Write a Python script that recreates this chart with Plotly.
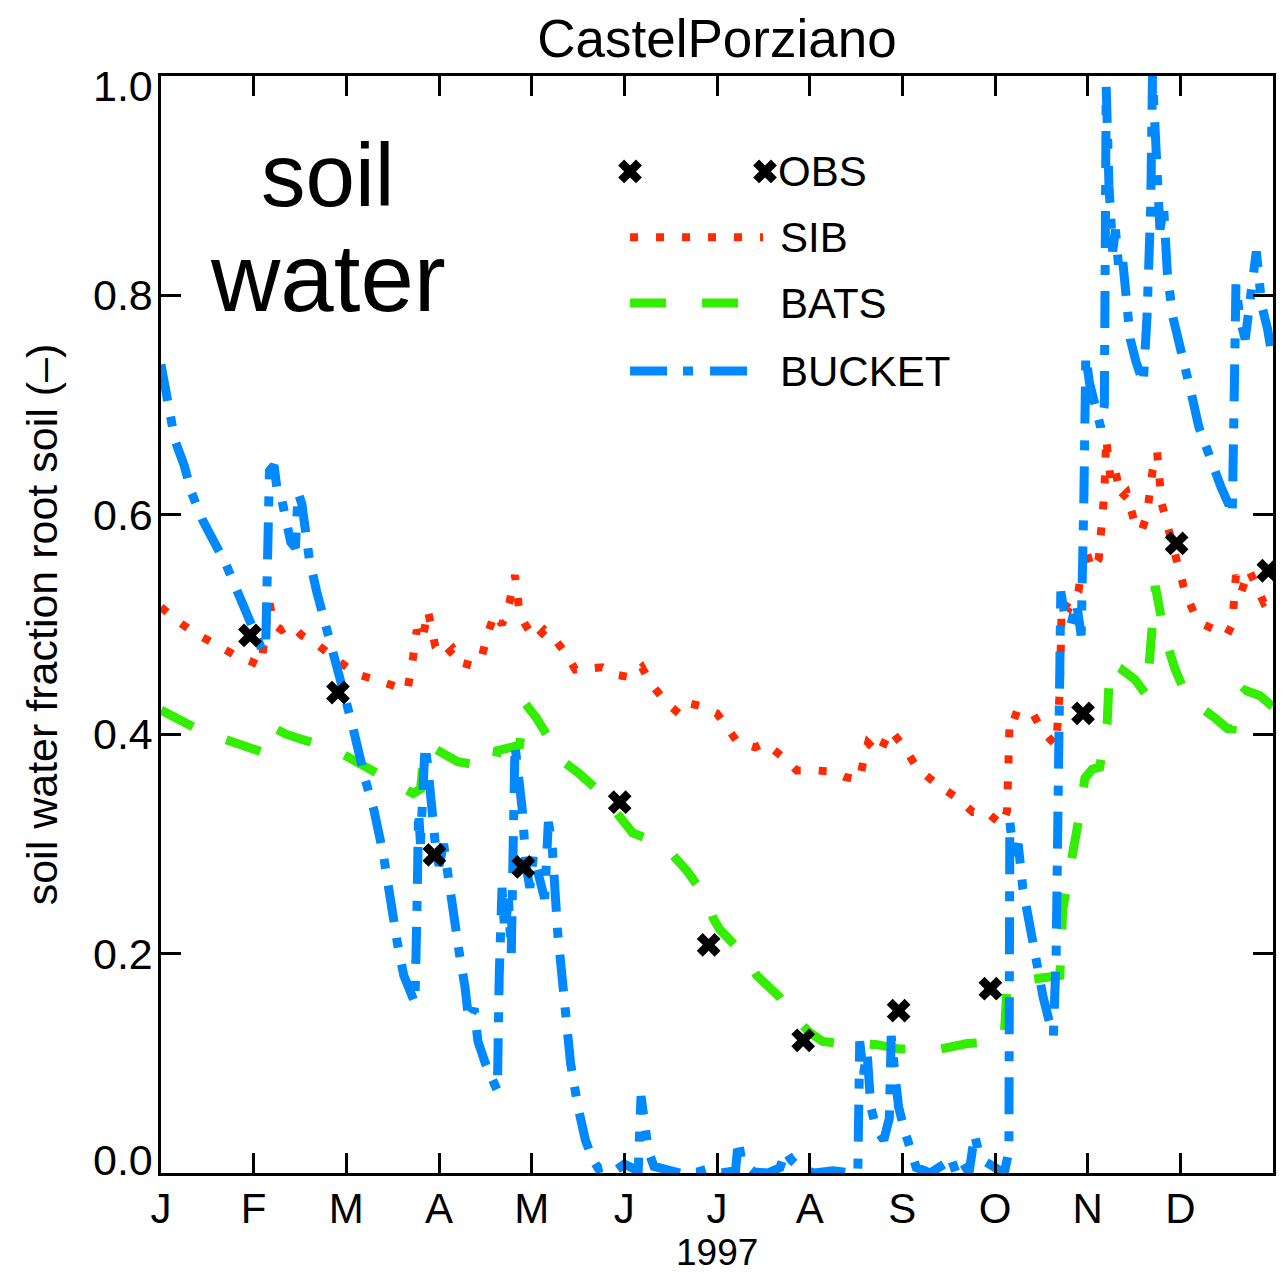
import plotly.graph_objects as go

# ---- data -------------------------------------------------------------
MONTHS = ["J", "F", "M", "A", "M", "J", "J", "A", "S", "O", "N", "D"]
YEAR = "1997"
Y_TICKS = [0.0, 0.2, 0.4, 0.6, 0.8, 1.0]
Y_TICK_TEXT = ["0.0", "0.2", "0.4", "0.6", "0.8", "1.0"]

# time axis in months since 1 Jan 1997
obs_month = [0.96, 1.91, 2.95, 3.91, 4.95, 5.91, 6.93, 7.96, 8.95, 9.95, 10.96, 11.95]
obs_value = [0.490, 0.438, 0.290, 0.279, 0.338, 0.208, 0.121, 0.148, 0.168, 0.419, 0.574, 0.549]

sib_month = [0.00, 0.15, 0.35, 0.58, 0.80, 0.98, 1.08, 1.12, 1.17, 1.22, 1.30, 1.40,
             1.52, 1.68, 1.90, 2.10, 2.30, 2.50, 2.66, 2.72, 2.76, 2.82, 2.88, 2.96,
             3.05, 3.15, 3.25, 3.38, 3.46, 3.52, 3.60, 3.68, 3.76, 3.82, 3.87, 3.93,
             4.04, 4.14, 4.23, 4.38, 4.47, 4.63, 4.76, 4.92, 5.06, 5.19, 5.28, 5.44,
             5.60, 5.71, 5.85, 6.00, 6.22, 6.41, 6.52, 6.71, 6.86, 7.06, 7.24, 7.38,
             7.54, 7.58, 7.63, 7.75, 7.87, 8.03, 8.16, 8.41, 8.59, 8.76, 8.91, 9.08,
             9.13, 9.16, 9.30, 9.40, 9.50, 9.60, 9.66, 9.70, 9.72, 9.80, 9.90, 9.97,
             10.05, 10.12, 10.18, 10.20, 10.25, 10.30, 10.36, 10.42, 10.50, 10.58,
             10.64, 10.70, 10.75, 10.80, 10.88, 10.96, 11.05, 11.15, 11.25, 11.38,
             11.50, 11.56, 11.60, 11.66, 11.74, 11.82, 11.90, 12.00]
sib_value = [0.516, 0.505, 0.493, 0.482, 0.472, 0.466, 0.462, 0.490, 0.520, 0.500, 0.495, 0.500,
             0.490, 0.482, 0.468, 0.455, 0.450, 0.445, 0.440, 0.470, 0.495, 0.485, 0.513, 0.480,
             0.470, 0.478, 0.465, 0.462, 0.470, 0.490, 0.510, 0.500, 0.520, 0.545, 0.510, 0.500,
             0.486, 0.495, 0.489, 0.472, 0.459, 0.460, 0.461, 0.454, 0.452, 0.461, 0.447, 0.430,
             0.418, 0.428, 0.425, 0.419, 0.393, 0.388, 0.392, 0.379, 0.367, 0.367, 0.366, 0.361,
             0.358, 0.376, 0.392, 0.382, 0.404, 0.387, 0.369, 0.352, 0.342, 0.329, 0.329, 0.317,
             0.330, 0.419, 0.415, 0.420, 0.405, 0.395, 0.390, 0.440, 0.520, 0.515, 0.530, 0.570,
             0.550, 0.560, 0.620, 0.670, 0.630, 0.640, 0.615, 0.620, 0.595, 0.585,
             0.600, 0.640, 0.657, 0.610, 0.585, 0.565, 0.530, 0.510, 0.500, 0.495,
             0.490, 0.500, 0.545, 0.530, 0.550, 0.535, 0.520, 0.525]

bats_month = [0.00, 0.15, 0.30, 0.50, 0.70, 0.90, 1.05, 1.12, 1.21, 1.35, 1.53, 1.82,
              2.00, 2.20, 2.40, 2.60, 2.72, 2.80, 2.85, 2.95, 3.05, 3.20, 3.40, 3.60,
              3.63, 3.75, 3.87, 3.90, 3.93, 4.05, 4.16, 4.34, 4.50, 4.63, 4.70, 4.90,
              5.09, 5.24, 5.40, 5.52, 5.68, 5.89, 5.96, 6.03, 6.15, 6.28, 6.43, 6.55,
              6.68, 6.86, 7.00, 7.14, 7.33, 7.55, 7.73, 7.97, 8.20, 8.41, 8.70, 8.90,
              9.05, 9.10, 9.13, 9.27, 9.50, 9.70, 9.73, 9.80, 9.86, 9.92, 9.97, 10.05,
              10.13, 10.21, 10.24, 10.35, 10.51, 10.64, 10.67, 10.73, 10.83, 10.94,
              11.04, 11.21, 11.37, 11.51, 11.56, 11.59, 11.70, 11.86, 12.00]
bats_value = [0.422, 0.415, 0.410, 0.400, 0.395, 0.390, 0.385, 0.383, 0.406, 0.400, 0.395, 0.388,
              0.380, 0.370, 0.362, 0.352, 0.346, 0.350, 0.390, 0.387, 0.383, 0.375, 0.372, 0.370,
              0.385, 0.388, 0.390, 0.410, 0.428, 0.415, 0.400, 0.375, 0.365, 0.355, 0.350, 0.330,
              0.310, 0.305, 0.298, 0.290, 0.275, 0.250, 0.232, 0.222, 0.212, 0.200, 0.180, 0.170,
              0.160, 0.140, 0.128, 0.120, 0.118, 0.118, 0.117, 0.113, 0.113, 0.113, 0.118, 0.120,
              0.120, 0.125, 0.170, 0.175, 0.178, 0.180, 0.240, 0.270, 0.300, 0.330, 0.360, 0.368,
              0.370, 0.410, 0.465, 0.460, 0.450, 0.435, 0.470, 0.535, 0.490, 0.460,
              0.440, 0.425, 0.415, 0.405, 0.405, 0.430, 0.440, 0.435, 0.425]

bucket_month = [0.00, 0.08, 0.15, 0.25, 0.33, 0.45, 0.55, 0.70, 0.80, 0.90, 1.00, 1.10,
                1.13, 1.15, 1.17, 1.22, 1.25, 1.30, 1.36, 1.40, 1.45, 1.48, 1.52, 1.56,
                1.60, 1.68, 1.78, 1.88, 1.96, 2.06, 2.20, 2.30, 2.40, 2.47, 2.55, 2.62,
                2.70, 2.74, 2.76, 2.78, 2.80, 2.83, 2.85, 2.88, 2.92, 2.96, 3.00, 3.05,
                3.10, 3.16, 3.22, 3.28, 3.32, 3.38, 3.42, 3.50, 3.58, 3.63, 3.65, 3.68,
                3.71, 3.75, 3.78, 3.80, 3.82, 3.86, 3.90, 3.94, 3.98, 4.02, 4.08, 4.14,
                4.18, 4.22, 4.28, 4.35, 4.42, 4.50, 4.58, 4.66, 4.72, 4.82, 4.90, 5.00,
                5.08, 5.15, 5.18, 5.22, 5.26, 5.32, 5.45, 5.60, 5.80, 5.95, 6.05, 6.20,
                6.23, 6.27, 6.40, 6.55, 6.68, 6.74, 6.80, 6.90, 7.05, 7.25, 7.45, 7.52,
                7.54, 7.58, 7.62, 7.66, 7.72, 7.80, 7.86, 7.88, 7.92, 7.96, 8.02, 8.08,
                8.15, 8.30, 8.45, 8.52, 8.58, 8.65, 8.72, 8.78, 8.82, 8.90, 9.00, 9.10,
                9.15, 9.16, 9.20, 9.25, 9.30, 9.38, 9.45, 9.52, 9.58, 9.63, 9.66, 9.68,
                9.71, 9.75, 9.82, 9.88, 9.93, 9.96, 9.98, 10.02, 10.07, 10.14, 10.18,
                10.20, 10.23, 10.27, 10.30, 10.34, 10.38, 10.42, 10.46, 10.52, 10.60,
                10.64, 10.68, 10.70, 10.74, 10.78, 10.82, 10.86, 10.92, 10.98, 11.05,
                11.12, 11.20, 11.28, 11.36, 11.44, 11.52, 11.56, 11.58, 11.60, 11.64,
                11.70, 11.76, 11.82, 11.88, 11.94, 12.00]
bucket_value = [0.737, 0.700, 0.668, 0.645, 0.620, 0.595, 0.580, 0.555, 0.535, 0.515, 0.495, 0.475,
                0.480, 0.600, 0.640, 0.645, 0.625, 0.615, 0.590, 0.575, 0.570, 0.620, 0.610, 0.580,
                0.560, 0.530, 0.500, 0.470, 0.440, 0.410, 0.360, 0.330, 0.290, 0.250, 0.210, 0.180,
                0.160, 0.155, 0.230, 0.330, 0.300, 0.360, 0.390, 0.370, 0.330, 0.300, 0.280, 0.300,
                0.270, 0.230, 0.200, 0.170, 0.140, 0.150, 0.120, 0.100, 0.085, 0.075, 0.180, 0.260,
                0.220, 0.250, 0.200, 0.300, 0.390, 0.360, 0.330, 0.280, 0.260, 0.290, 0.270, 0.250,
                0.320, 0.300, 0.220, 0.160, 0.100, 0.060, 0.030, 0.012, 0.004, 0.006, 0.002, 0.008,
                0.004, 0.002, 0.070, 0.045, 0.020, 0.006, 0.003, 0.000, 0.001, 0.005, 0.000, 0.002,
                0.030, 0.010, 0.001, 0.000, 0.005, 0.020, 0.012, 0.004, 0.000, 0.002, 0.000, 0.001,
                0.120, 0.090, 0.110, 0.060, 0.040, 0.030, 0.050, 0.125, 0.090, 0.060, 0.040, 0.020,
                0.005, 0.000, 0.008, 0.015, 0.000, 0.010, 0.000, 0.035, 0.020, 0.010, 0.005, 0.000,
                0.020, 0.320, 0.290, 0.300, 0.260, 0.220, 0.190, 0.160, 0.140, 0.125, 0.200, 0.450,
                0.530, 0.510, 0.500, 0.520, 0.490, 0.620, 0.745, 0.720, 0.700, 0.680, 0.700,
                0.990, 0.900, 0.840, 0.860, 0.820, 0.830, 0.800, 0.760, 0.740, 0.720,
                0.780, 0.880, 1.000, 0.920, 0.860, 0.880, 0.820, 0.780, 0.760, 0.740,
                0.710, 0.680, 0.660, 0.640, 0.625, 0.610, 0.600, 0.700, 0.810, 0.780,
                0.760, 0.800, 0.840, 0.790, 0.770, 0.740]

SERIES = ["OBS", "SIB", "BATS", "BUCKET"]

# ---- style ------------------------------------------------------------
FONT = "Liberation Sans, Arial, Helvetica, sans-serif"
RED = "#ff2a00"
GREEN = "#33ee00"
BLUE = "#0088ff"
X_MAX = 12.0

DASH = {
    "SIB": "8px,18px",
    "BATS": "36px,36px",
    "BUCKET": "37px,16px,10px,17px",
}
COLOR = {"SIB": RED, "BATS": GREEN, "BUCKET": BLUE}
WIDTH = {"SIB": 8, "BATS": 9, "BUCKET": 9}
MARKER_SIZE = 21

fig = go.Figure()

for name, xs, ys in [("SIB", sib_month, sib_value),
                     ("BATS", bats_month, bats_value),
                     ("BUCKET", bucket_month, bucket_value)]:
    fig.add_trace(go.Scatter(x=xs, y=ys, mode="lines", name=name,
                             line=dict(color=COLOR[name], width=WIDTH[name],
                                       dash=DASH[name])))
fig.add_trace(go.Scatter(x=obs_month, y=obs_value, mode="markers", name="OBS",
                         marker=dict(symbol="x", size=MARKER_SIZE, color="black")))

# ---- hand-placed key (fractions of the plot area) ---------------------
key_x0 = 0.4218
key_text_x = 0.5549
key_rows = {"OBS": 0.913, "SIB": 0.853, "BATS": 0.793, "BUCKET": 0.731}
key_x1 = {"SIB": 0.5414, "BATS": 0.5189, "BUCKET": 0.5270}
key_obs_x2 = 0.5432

fig.add_trace(go.Scatter(x=[key_x0 * X_MAX, key_obs_x2 * X_MAX],
                         y=[key_rows["OBS"]] * 2, mode="markers",
                         marker=dict(symbol="x", size=MARKER_SIZE, color="black"),
                         hoverinfo="skip"))
for name in ["SIB", "BATS", "BUCKET"]:
    fig.add_shape(type="line", xref="paper", yref="paper",
                  x0=key_x0, x1=key_x1[name], y0=key_rows[name], y1=key_rows[name],
                  line=dict(color=COLOR[name], width=WIDTH[name], dash=DASH[name]))
for name in SERIES:
    fig.add_annotation(x=key_text_x - (0.002 if name == "OBS" else 0), y=key_rows[name],
                       xref="paper", yref="paper", text=name, showarrow=False,
                       xanchor="left", yanchor="middle",
                       font=dict(family=FONT, size=42, color="black"))

# big label in the upper left
fig.add_annotation(x=0.150, y=0.910, xref="paper", yref="paper", text="soil",
                   showarrow=False, xanchor="center", yanchor="middle",
                   font=dict(family=FONT, size=89, color="black"))
fig.add_annotation(x=0.150, y=0.816, xref="paper", yref="paper", text="water",
                   showarrow=False, xanchor="center", yanchor="middle",
                   font=dict(family=FONT, size=96, color="black"))

# y tick labels, end labels nudged inside the frame
y_label_shift = {0.0: 13, 1.0: -10}
for val, txt in zip(Y_TICKS, Y_TICK_TEXT):
    fig.add_annotation(x=0, y=val, xref="paper", yref="y", text=txt,
                       showarrow=False, xanchor="right", yanchor="middle",
                       xshift=-6, yshift=y_label_shift.get(val, 0),
                       font=dict(family=FONT, size=43, color="black"))

# year caption under the month labels, resting on the bottom edge
fig.add_annotation(x=0.5, y=-101 / 1097, xref="paper", yref="paper", text=YEAR,
                   showarrow=False, xanchor="center", yanchor="bottom", borderpad=0,
                   font=dict(family=FONT, size=37, color="black"))

axis_common = dict(showline=True, linewidth=3, linecolor="black", mirror="ticks",
                   ticks="inside", ticklen=20, tickwidth=3, tickcolor="black",
                   showgrid=False, zeroline=False, automargin=False)

fig.update_layout(
    width=1283, height=1274,
    margin=dict(l=161, r=10, t=76, b=101, pad=0),
    paper_bgcolor="white", plot_bgcolor="white",
    showlegend=False,
    font=dict(family=FONT, color="black"),
    title=dict(text="CastelPorziano", x=0.5, xref="paper", y=1 - 38 / 1274,
               yref="container", xanchor="center", yanchor="middle",
               font=dict(family=FONT, size=53, color="black")),
    xaxis=dict(range=[0, X_MAX], tickvals=list(range(12)), ticktext=MONTHS,
               tickfont=dict(family=FONT, size=42, color="black"),
               ticklabelstandoff=-3,
               **axis_common),
    yaxis=dict(range=[0, 1], tickvals=Y_TICKS, showticklabels=False,
               title=dict(text="soil water fraction root soil (–)", standoff=87,
                          font=dict(family=FONT, size=43, color="black")),
               **axis_common),
)

fig.write_html("out.html")
